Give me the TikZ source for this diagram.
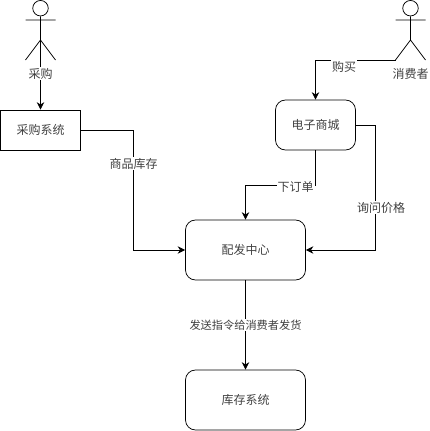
\documentclass[tikz,border=0pt]{standalone}
\usepackage{fontspec}
\setmainfont{Noto Sans CJK SC}
\usetikzlibrary{calc,positioning,arrows.meta}

\begin{document}
\begin{tikzpicture}[x=1pt,y=-1pt,font=\fontsize{12}{14}\selectfont,line width=0.75pt,
    every node/.style={inner sep=1pt,text=black!75},
    box/.style={draw,minimum width=80pt,minimum height=40pt,inner sep=0pt},
    rbox/.style={box,rounded corners=10pt},
    lbl/.style={fill=white},
    conn/.style={-{Stealth[length=7.5pt,width=7.5pt]}}]
  \useasboundingbox (0,0) rectangle (429,431);
  \node[box] (caigouxt) at (40.5,130) {采购系统};
  \node[rbox,minimum height=50pt] (shangcheng) at (315.5,125) {电子商城};
  \node[rbox,minimum width=120pt,minimum height=60pt] (peifa) at (245.5,250) {配发中心};
  \node[rbox,minimum width=120pt,minimum height=60pt] (kucun) at (245.5,400) {库存系统};
  % actors
  \node[draw,circle,minimum size=15.5pt,inner sep=0pt] (head1) at (40.5,8.2) {};
  \coordinate (hip1) at (40.5,40);
  \coordinate (armL1) at (25.5,20);
  \coordinate (armR1) at (55.5,20);
  \coordinate (legL1) at (25.5,60);
  \coordinate (legR1) at (55.5,60);
  \draw (head1)--(hip1) (armL1)--(armR1) (legL1)--(hip1)--(legR1);
  \node[draw,circle,minimum size=15.5pt,inner sep=0pt] (head2) at (410.5,8.2) {};
  \coordinate (hip2) at (410.5,40);
  \coordinate (armL2) at (395.5,20);
  \coordinate (armR2) at (425.5,20);
  \coordinate (legL2) at (395.5,60);
  \coordinate (legR2) at (425.5,60);
  \draw (head2)--(hip2) (armL2)--(armR2) (legL2)--(hip2)--(legR2);
  % connectors
  \coordinate (c1) at (133.5,130);
  \coordinate (c2) at (315.5,60);
  \coordinate (c3) at (315.5,185);
  \coordinate (c4) at (245.5,185);
  \coordinate (c5) at (375.5,125);
  \draw[conn] (hip1)--(caigouxt);
  \draw[conn] (caigouxt)--(c1)|-(peifa);
  \draw[conn] (legL2)--(c2)--(shangcheng);
  \draw[conn] (shangcheng)--(c3)--(c4)--(peifa);
  \draw[conn] (shangcheng.east)--(c5)|-(peifa.east);
  \draw[conn] (peifa)--(kucun);
  % labels
  \node[lbl] (l1) at (40.5,73.5) {采购};
  \node[lbl,inner sep=0pt] (l2) at (410.5,73.5) {消费者};
  \node[lbl] (l3) at (344,66.5) {购买};
  \node[lbl] (l4) at (133.5,163.5) {商品库存};
  \node[lbl] (l5) at (295.5,187) {下订单};
  \node[lbl] (l6) at (381,207.5) {询问价格};
  \node[lbl,font=\fontsize{11.2}{13}\selectfont] (l7) at (245.5,325) {发送指令给消费者发货};
\end{tikzpicture}
\end{document}
